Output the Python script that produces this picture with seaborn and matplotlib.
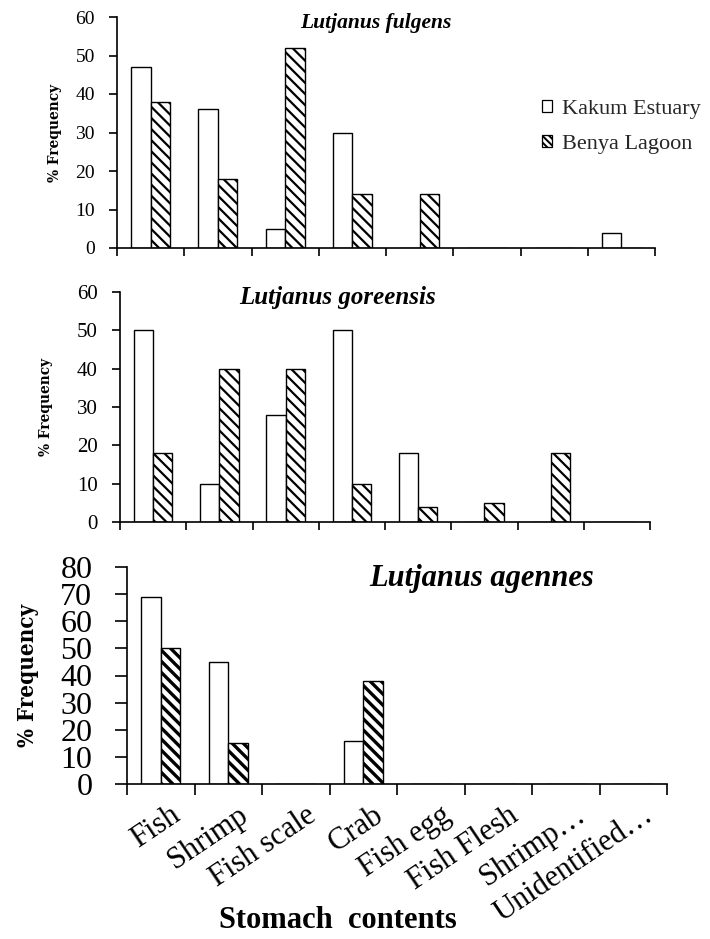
import matplotlib
matplotlib.use("Agg")
import matplotlib.pyplot as plt
import seaborn as sns
import pandas as pd
from matplotlib.ticker import MultipleLocator, FixedLocator
from matplotlib.transforms import ScaledTranslation

# Diet composition of three snapper species (% frequency of occurrence)
categories = ["Fish", "Shrimp", "Fish scale", "Crab", "Fish egg",
              "Fish Flesh", "Shrimp…", "Unidentified…"]
sites = ["Kakum Estuary", "Benya Lagoon"]

fulgens_kakum = [47, 36, 5, 30, 0, 0, 0, 4]
fulgens_benya = [38, 18, 52, 14, 14, 0, 0, 0]

goreensis_kakum = [50, 10, 28, 50, 18, 0, 0, 0]
goreensis_benya = [18, 40, 40, 10, 4, 5, 18, 0]

agennes_kakum = [69, 45, 0, 16, 0, 0, 0, 0]
agennes_benya = [50, 15, 0, 38, 0, 0, 0, 0]

species = ["Lutjanus fulgens", "Lutjanus goreensis", "Lutjanus agennes"]

sns.set_theme(style="white")
plt.rcParams["font.family"] = ["Liberation Serif", "DejaVu Serif"]
plt.rcParams["hatch.linewidth"] = 1.5
plt.rcParams["hatch.color"] = "black"

W, H = 710, 939
fig = plt.figure(figsize=(W / 100, H / 100), dpi=100)


def px_axes(x0, x1, ytop, ybot):
    return fig.add_axes([x0 / W, 1 - ybot / H, (x1 - x0) / W, (ybot - ytop) / H])


def make_frame(kakum, benya):
    rows = []
    for c, a, b in zip(categories, kakum, benya):
        rows.append({"content": c, "site": sites[0], "pct": a})
        rows.append({"content": c, "site": sites[1], "pct": b})
    return pd.DataFrame(rows)


panels = [
    dict(k=fulgens_kakum, b=fulgens_benya, box=(117, 655, 17, 248),
         ymax=60, tick_fs=14, ypad=10, lab_fs=11, lab_x=-0.115,
         title_xy=(0.481, 0.975), title_fs=15.5, hatch="\\\\\\", hlw=1.6,
         ylen=6, xlen=6),
    dict(k=goreensis_kakum, b=goreensis_benya, box=(120, 650, 292, 522),
         ymax=60, tick_fs=15, ypad=10, lab_fs=11, lab_x=-0.14,
         title_xy=(0.411, 0.978), title_fs=18, hatch="\\\\\\", hlw=1.6,
         ylen=6, xlen=6),
    dict(k=agennes_kakum, b=agennes_benya, box=(127, 667, 567, 784),
         ymax=80, tick_fs=23, ypad=16, lab_fs=16, lab_x=-0.183,
         title_xy=(0.657, 0.949), title_fs=22, hatch="\\\\\\", hlw=2.4,
         ylen=9, xlen=8),
]

axes = []
for i, p in enumerate(panels):
    ax = px_axes(*p["box"])
    df = make_frame(p["k"], p["b"])
    sns.barplot(data=df, x="content", y="pct", hue="site", order=categories,
                hue_order=sites, palette=["white", "white"], width=0.58,
                edgecolor="black", linewidth=1.0, saturation=1, ax=ax,
                legend=(i == 0))
    for bar in ax.containers[1]:
        bar.set_hatch(p["hatch"])
        if hasattr(bar, "set_hatch_linewidth"):
            bar.set_hatch_linewidth(p["hlw"])

    ax.set_xlim(-0.5, len(categories) - 0.5)
    ax.set_ylim(0, p["ymax"])
    ax.yaxis.set_major_locator(MultipleLocator(10))
    for s in ("top", "right"):
        ax.spines[s].set_visible(False)
    for s in ("left", "bottom"):
        ax.spines[s].set_color("black")
        ax.spines[s].set_linewidth(1.2)

    # category boundaries carry the tick marks; labels sit at the centres
    ax.xaxis.set_minor_locator(FixedLocator([j - 0.5 for j in range(len(categories) + 1)]))
    ax.tick_params(axis="x", which="major", length=0, bottom=True)
    ax.tick_params(axis="x", which="minor", length=p["xlen"], width=1.2,
                   color="black", direction="out", bottom=True)
    ax.tick_params(axis="y", which="major", length=p["ylen"], width=1.2,
                   color="black", direction="out", left=True,
                   labelsize=p["tick_fs"], pad=p["ypad"], labelcolor="black")
    ax.set_xlabel("")

    ax.set_ylabel("% Frequency", family=["DejaVu Serif"], fontstretch="condensed",
                  fontweight="bold", fontsize=p["lab_fs"], color="black")
    ax.yaxis.set_label_coords(p["lab_x"], 0.5)
    ax.yaxis.label.set_va("center")

    ax.text(*p["title_xy"], species[i], transform=ax.transAxes, ha="center",
            va="center", fontsize=p["title_fs"], fontweight="bold",
            fontstyle="italic", color="black")
    axes.append(ax)

# upper panels: no category names
for ax in axes[:2]:
    ax.set_xticklabels([])

ax3 = axes[2]
ax3.set_xticks(range(len(categories)))
ax3.set_xticklabels(categories, rotation=34, ha="right", va="top",
                    rotation_mode="anchor", fontsize=22, color="black")
ax3.tick_params(axis="x", which="major", pad=12)
for lbl in ax3.get_xticklabels():
    lbl.set_transform(lbl.get_transform() + ScaledTranslation(0.09, 0, fig.dpi_scale_trans))
ax3.set_xlabel("Stomach  contents", fontsize=22, fontweight="bold", color="black")
ax3.xaxis.set_label_coords((338 - 127) / 540, -(921 - 784) / 217)
ax3.xaxis.label.set_va("center")

# legend in the top panel
ax1 = axes[0]
handles, labels = ax1.get_legend_handles_labels()
if ax1.legend_ is not None:
    ax1.legend_.remove()
leg = fig.legend(handles, labels, loc="upper left",
                 bbox_to_anchor=(542 / W, 1 - 100 / H), frameon=False,
                 fontsize=16, handlelength=0.45, handleheight=0.45,
                 handletextpad=0.45, labelspacing=0.72, borderpad=0,
                 borderaxespad=0)
for h, hatch in zip(leg.legend_handles, ["", "\\\\\\\\\\"]):
    h.set_edgecolor("black")
    h.set_facecolor("white")
    h.set_linewidth(0.9)
    h.set_hatch(hatch)
    if hatch and hasattr(h, "set_hatch_linewidth"):
        h.set_hatch_linewidth(1.4)

fig.savefig("out.png", dpi=100, facecolor="white")
